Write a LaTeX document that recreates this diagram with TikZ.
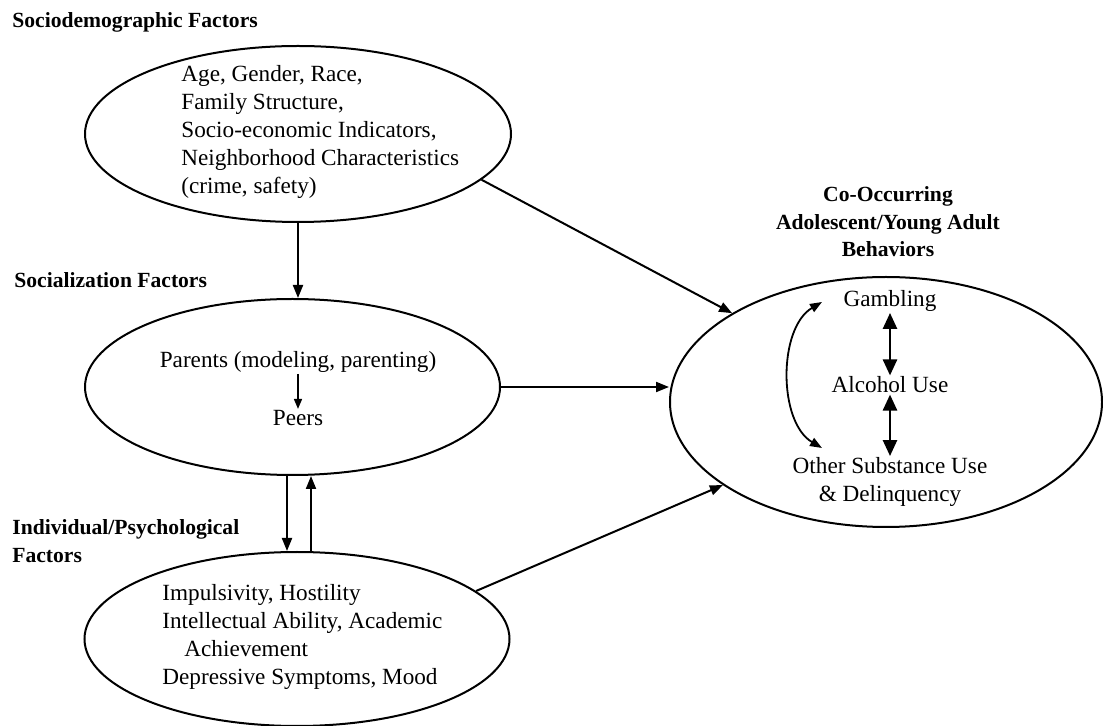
\documentclass[tikz,border=0pt]{standalone}
\usepackage{fontspec}
\setmainfont{Liberation Serif}
\usetikzlibrary{shapes.geometric,arrows.meta}

\tikzset{
  elli/.style={draw,ellipse,line width=1pt,inner sep=0pt},
  body/.style={inner sep=0.5pt,font=\fontsize{11.6}{14}\selectfont},
  head/.style={inner sep=0pt,font=\fontsize{10.8}{13.7}\selectfont\bfseries},
  arr/.style={line width=1pt,-{Triangle[length=6.5pt,width=5pt]}},
  thickarr/.style={line width=1.3pt,{Triangle[length=8pt,width=7pt]}-{Triangle[length=8pt,width=7pt]}},
}

\begin{document}
\begin{tikzpicture}[x=0.5pt,y=0.5pt,yscale=-1]
			\useasboundingbox (0,0) rectangle (1103,726);
			
			%Shape: Ellipse [id:sd]
			\node [elli, minimum width=213pt, minimum height=88pt] (sd) at (298,134) {};
			%Shape: Ellipse [id:soc]
			\node [elli, minimum width=207.5pt, minimum height=88pt] (soc) at (292.5,387) {};
			%Shape: Ellipse [id:ind]
			\node [elli, minimum width=212.5pt, minimum height=87pt] (ind) at (297,639) {};
			%Shape: Ellipse [id:beh]
			\node [elli, minimum width=216pt, minimum height=125pt] (beh) at (886,402) {};
			
			% Text Node
			\node [head, anchor=west] (hsd) at (12,22) {Sociodemographic Factors};
			% Text Node
			\node [head, anchor=west] (hsoc) at (14,280) {Socialization Factors};
			% Text Node
			\node [head, anchor=west, align=left] (hind) at (12,541) {Individual/Psychological\\Factors};
			% Text Node
			\node [head, align=center] (hbeh) at (888,222) {Co-Occurring\\Adolescent/Young Adult\\Behaviors};
			
			% Text Node
			\node [body, anchor=west, align=left] (tsd) at (180,132) {Age, Gender, Race,\\Family Structure,\\Socio-economic Indicators,\\Neighborhood Characteristics\\(crime, safety)};
			% Text Node
			\node [body] (par) at (298,362) {Parents (modeling, parenting)};
			% Text Node
			\node [body] (peer) at (298,418) {Peers};
			% Text Node
			\node [body, anchor=west, align=left] (tind) at (161,637) {Impulsivity, Hostility\\Intellectual Ability, Academic\\\hspace*{11pt}Achievement\\Depressive Symptoms, Mood};
			% Text Node
			\node [body] (gam) at (890,301) {Gambling};
			% Text Node
			\node [body] (alc) at (890,385) {Alcohol Use};
			% Text Node
			\node [body, align=center] (oth) at (890,482) {Other Substance Use\\\& Delinquency};
			
			%Straight Lines
			\draw [arr] (sd.south) -- (sd.south |- soc.north) ;
			\draw [arr] (sd.-14) -- (beh.150) ;
			\draw [arr] (soc.east) -- (soc.east -| beh.west) ;
			\draw [arr] (ind.15) -- (beh.207) ;
			\draw [arr] ([xshift=-2.75pt]soc.south) -- ([xshift=-2.75pt]soc.south |- ind.north) ;
			\draw [arr] ([xshift=9.25pt]soc.south |- ind.north) -- ([xshift=9.25pt]soc.south) ;
			\draw [line width=0.8pt,-{Triangle[length=5pt,width=4pt]}] (par) -- (peer) ;
			
			%Double Arrows
			\draw [thickarr] (gam) -- (alc) ;
			\draw [thickarr] (alc) -- (oth) ;
			%Curve Lines
			\coordinate (cgam) at (822,302);
			\coordinate (coth) at (822,448);
			\draw [line width=0.9pt,{Triangle[length=6pt,width=4.5pt]}-{Triangle[length=6pt,width=4.5pt]}] (cgam) .. controls (778,328) and (778,422) .. (coth) ;
			
		\end{tikzpicture}
\end{document}
